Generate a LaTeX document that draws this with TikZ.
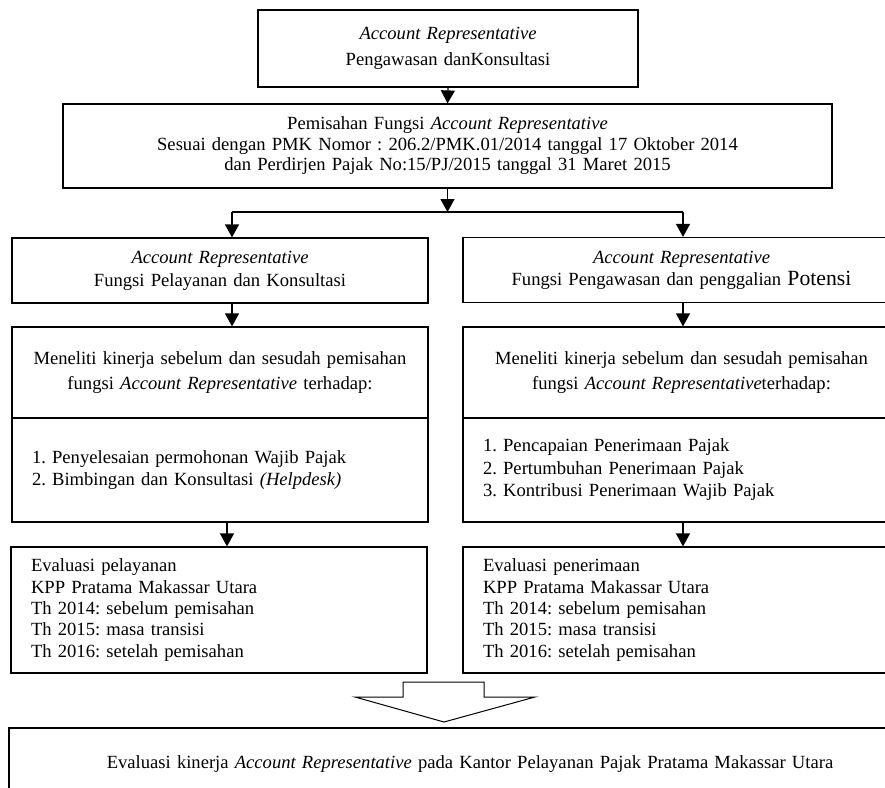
\documentclass[tikz,border=0pt]{standalone}
\usepackage{fontspec}
\setmainfont{Liberation Serif}
\frenchspacing
\usetikzlibrary{arrows.meta,positioning}

\tikzset{
  kotak/.style={draw,line width=1.2pt,inner xsep=0pt,inner ysep=0pt,align=center},
  daftar/.style={kotak,align=left,inner xsep=20pt},
  panah/.style={line width=1.2pt,-{Triangle[width=14pt,length=13pt]}},
}
\newcommand{\AR}{\textit{Account Representative}}

\begin{document}
\begin{tikzpicture}[x=1pt,y=-1pt,font={\fontsize{18.6pt}{21.3pt}\selectfont}]
            \useasboundingbox (0,0) rectangle (885,787);
            \clip (0,0) rectangle (885,787);
            \node[kotak,text width=380pt,minimum height=77pt] (ar) at (448,48.5) {\AR\\[5pt]Pengawasan danKonsultasi};
            \node[kotak,text width=769pt,minimum height=84pt,font={\fontsize{18.6pt}{20.5pt}\selectfont}] (pisah) at (447.5,146) {Pemisahan Fungsi \AR\\Sesuai dengan PMK Nomor : 206.2/PMK.01/2014 tanggal 17 Oktober 2014\\dan Perdirjen Pajak No:15/PJ/2015 tanggal 31 Maret 2015};
            \node[kotak,text width=416pt,minimum height=65pt] (layanan) at (220,270.5) {\AR\\[2pt]Fungsi Pelayanan dan Konsultasi};
            \node[kotak,text width=437pt,minimum height=65pt] (awas) at (681.5,270) {\AR\\[1pt]Fungsi Pengawasan dan penggalian {\fontsize{21.7pt}{24pt}\selectfont Potensi}};
            \node[kotak,text width=416pt,minimum height=91pt] (telitiL) at (220,372.5) {Meneliti kinerja sebelum dan sesudah pemisahan\\[3pt]fungsi \AR{} terhadap:\par\vspace*{20pt}};
            \node[kotak,text width=437pt,minimum height=91pt] (telitiR) at (681.5,372.5) {Meneliti kinerja sebelum dan sesudah pemisahan\\[3pt]fungsi \AR{}terhadap:\par\vspace*{20pt}};
            \node[daftar,text width=376pt,minimum height=104pt] (aspekL) at (220,470) {1. Penyelesaian permohonan Wajib Pajak\\[1.2pt]2. Bimbingan dan Konsultasi \textit{(Helpdesk)}\par\vspace*{37pt}};
            \node[daftar,text width=397pt,minimum height=104pt] (aspekR) at (681.5,470) {1. Pencapaian Penerimaan Pajak\\[1.2pt]2. Pertumbuhan Penerimaan Pajak\\[1.2pt]3. Kontribusi Penerimaan Wajib Pajak\par\vspace*{17pt}};
            \node[daftar,text width=376pt,minimum height=126pt] (evalL) at (219,610) {Evaluasi pelayanan\\KPP Pratama Makassar Utara\\Th 2014: sebelum pemisahan\\Th 2015: masa transisi\\Th 2016: setelah pemisahan};
            \node[daftar,text width=397pt,minimum height=126pt] (evalR) at (681.5,610) {Evaluasi penerimaan\\KPP Pratama Makassar Utara\\Th 2014: sebelum pemisahan\\Th 2015: masa transisi\\Th 2016: setelah pemisahan};
            \node[kotak,text width=922pt,minimum height=72pt] (hasil) at (470,764) {Evaluasi kinerja \AR{} pada Kantor Pelayanan Pajak Pratama Makassar Utara};
            \coordinate (cabang) at (447.5,212);
            \coordinate (kiri) at (232,212);
            \coordinate (kanan) at (683,212);
            \draw[panah] (ar.south) -- (pisah.north);
            \draw[panah] (pisah.south) -- (cabang);
            \draw[line width=1.2pt] (kiri) -- (kanan);
            \draw[panah] (kiri) -- (kiri |- layanan.north);
            \draw[panah] (kanan) -- (kanan |- awas.north);
            \draw[panah] (kiri |- layanan.south) -- (kiri |- telitiL.north);
            \draw[panah] (kanan |- awas.south) -- (kanan |- telitiR.north);
            \draw[panah] ([xshift=7pt]aspekL.south) -- ([xshift=7pt]aspekL.south |- evalL.north);
            \draw[panah] (kanan |- aspekR.south) -- (kanan |- evalR.north);
            \draw[line width=1pt] (403,682) -- (484,682) -- (484,697) -- (535,697) -- (444,722) -- (355,697) -- (403,697) -- cycle;
\end{tikzpicture}
\end{document}
